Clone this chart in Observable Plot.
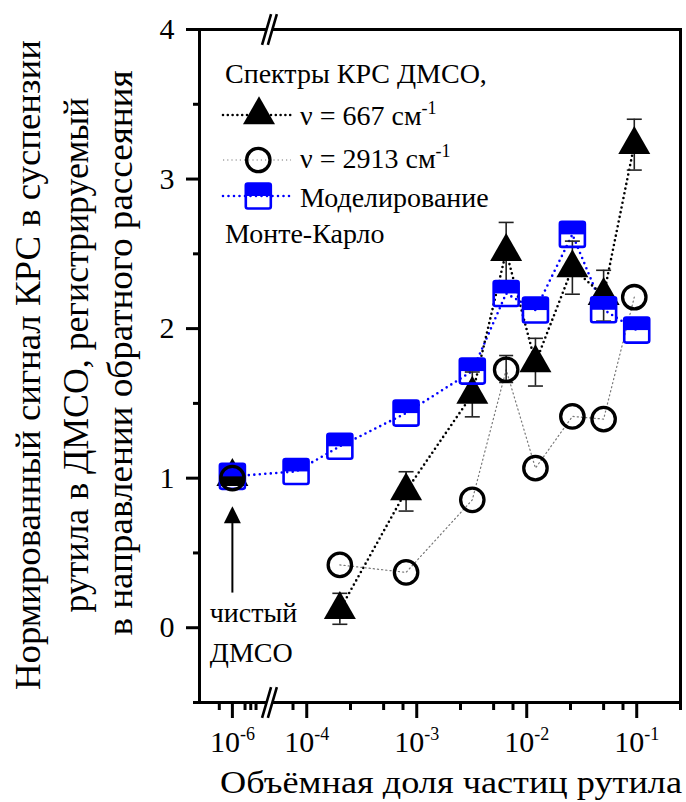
<!DOCTYPE html>
<html><head><meta charset="utf-8">
<script src="https://cdn.jsdelivr.net/npm/d3@7"></script>
<script src="https://cdn.jsdelivr.net/npm/@observablehq/plot@0.6"></script>
<style>body{margin:0;background:#fff} #chart{width:686px;height:802px}</style>
</head><body><div id="chart"></div>
<script>
// ---------- data ----------
const triX  = [1e-6, 2e-4, 8e-4, 3.2e-3, 6.5e-3, 1.2e-2, 2.6e-2, 5e-2, 9.5e-2];
const triY  = [1.01, 0.12, 0.915, 1.56, 2.515, 1.77, 2.405, 2.22, 3.23];
const triLo = [null, 0.023, 0.78, 1.41, 2.32, 1.616, 2.23, 2.05, 3.06];
const triHi = [null, 0.23, 1.043, 1.71, 2.71, 1.935, 2.585, 2.39, 3.40];

const cirX  = [1e-6, 2e-4, 8e-4, 3.2e-3, 6.5e-3, 1.2e-2, 2.6e-2, 5e-2, 9.5e-2];
const cirY  = [1.0, 0.42, 0.37, 0.855, 1.725, 1.067, 1.413, 1.395, 2.21];
const cirLo = [null, null, null, null, 1.64, null, null, null, null];
const cirHi = [null, null, null, null, 1.82, null, null, null, null];

const simX  = [1e-6, 8e-5, 2e-4, 8e-4, 3.2e-3, 6.5e-3, 1.2e-2, 2.6e-2, 5e-2, 1e-1];
const simY  = [1.012, 1.045, 1.213, 1.435, 1.716, 2.235, 2.124, 2.63, 2.126, 1.99];

// axis ticks
const xTickValues = [1e-6, 1e-4, 1e-3, 1e-2, 1e-1];
const xTickBase = "10";
const xTickExp = ["-6", "-4", "-3", "-2", "-1"];
const xMinorRight = [7.5e-5, 2.5e-4, 5e-4, 7.5e-4, 2.5e-3, 5e-3, 7.5e-3, 2.5e-2, 5e-2, 7.5e-2, 2.5e-1];
const xMinorLeftU = [-4.795, -4.561, -4.509, -4.461]; // ticks of the compressed segment left of the break
const yMajor = [0, 1, 2, 3, 4];
const yMinor = [-0.5, 0.5, 1.5, 2.5, 3.5];

// texts
const yTitle = ["Нормированный сигнал КРС в суспензии", "рутила в ДМСО, регистрируемый", "в направлении обратного рассеяния"];
const xTitle = "Объёмная доля частиц рутила";
const legendHead = "Спектры КРС ДМСО,";
const legendNames = ["ν = 667 см", "ν = 2913 см", "Моделирование"];
const legendTail = "Монте-Карло";
const note = "чистый\nДМСО";

// ---------- axis with a break ----------
const U_PURE = -4.676;   // position of the pure-DMSO column (left of the break)
const U_BREAK = -4.339;  // position of the axis break
const pos = x => x < 1e-5 ? U_PURE : Math.log10(x);
const U_MIN = -4.975, U_MAX = Math.log10(0.25);

const BLUE = "#0000ff";
const FONT = "Liberation Serif, Tinos, Times New Roman, DejaVu Serif, Noto Serif, serif";
const tri = triX.map((x, i) => ({x, y: triY[i], lo: triLo[i], hi: triHi[i]}));
const cir = cirX.map((x, i) => ({x, y: cirY[i], lo: cirLo[i], hi: cirHi[i]}));
const sim = simX.map((x, i) => ({x, y: simY[i]}));
const arrow = [{x: 1e-6, y1: 0.235, y2: 0.70, tip: 0.813}];

// ---------- custom symbols ----------
const triSym = {draw(c, size) { const r = Math.sqrt(size / Math.PI), h = r * 1.75;
  c.moveTo(0, -2 * h / 3); c.lineTo(r, h / 3); c.lineTo(-r, h / 3); c.closePath(); }};
const sqSym = {draw(c, size) { const s = Math.sqrt(size / Math.PI), k = 2;
  c.moveTo(-s + k, -s); c.lineTo(s - k, -s); c.arcTo(s, -s, s, -s + k, k);
  c.lineTo(s, s - k); c.arcTo(s, s, s - k, s, k); c.lineTo(-s + k, s);
  c.arcTo(-s, s, -s, s - k, k); c.lineTo(-s, -s + k); c.arcTo(-s, -s, -s + k, -s, k); c.closePath(); }};
const halfSym = {draw(c, size) { const s = Math.sqrt(size / Math.PI); c.rect(-s, -s, 2 * s, s); }};
const capSym = {draw(c, size) { const r = Math.sqrt(size / Math.PI); c.moveTo(-r, 0); c.lineTo(r, 0); }};
const headSym = {draw(c, size) { const r = Math.sqrt(size / Math.PI);
  c.moveTo(0, 0); c.lineTo(r, 2 * r); c.lineTo(-r, 2 * r); c.closePath(); }};
const slashSym = {draw(c) { for (const o of [-2.9, 2.9]) { c.moveTo(o - 4.5, 15.3); c.lineTo(o + 4.5, -15.3); } }};
const gapSym = {draw(c) { c.rect(-2.9, -3, 5.8, 6); }};

const breaks = [{x: U_BREAK, y: 4}, {x: U_BREAK, y: -0.5}];
const X = d => pos(d.x);

const plot = Plot.plot({
  width: 686, height: 802,
  marginLeft: 199, marginRight: 6, marginTop: 29, marginBottom: 100,
  style: {fontFamily: FONT, fontSize: "30px", color: "black", background: "white"},
  x: {type: "linear", domain: [U_MIN, U_MAX]},
  y: {domain: [-0.5, 4]},
  marks: [
    Plot.line(sim, {x: X, y: "y", stroke: BLUE, strokeWidth: 2.6, strokeDasharray: "0 5.5", strokeLinecap: "round"}),
    Plot.line(tri, {filter: d => d.x > 1e-5, x: X, y: "y", stroke: "black", strokeWidth: 2.6, strokeDasharray: "0 4.8", strokeLinecap: "round"}),
    Plot.line(cir, {filter: d => d.x > 1e-5, x: X, y: "y", stroke: "#777", strokeWidth: 1.2, strokeDasharray: "1.2 3"}),
    Plot.ruleX(tri, {filter: d => d.lo != null, x: X, y1: "lo", y2: "hi", stroke: "#222", strokeWidth: 1.6}),
    Plot.dot(tri, {filter: d => d.lo != null, x: X, y: "lo", symbol: capSym, r: 7.5, stroke: "#222", strokeWidth: 1.6}),
    Plot.dot(tri, {filter: d => d.hi != null, x: X, y: "hi", symbol: capSym, r: 7.5, stroke: "#222", strokeWidth: 1.6}),
    Plot.dot(tri, {x: X, y: "y", symbol: triSym, r: 16, fill: "black", stroke: null}),
    Plot.dot(sim, {x: X, y: "y", symbol: halfSym, r: 12.5, fill: BLUE, stroke: null}),
    Plot.dot(sim, {x: X, y: "y", symbol: sqSym, r: 12.5, fill: "none", stroke: BLUE, strokeWidth: 2.6}),
    Plot.ruleX(cir, {filter: d => d.lo != null, x: X, y1: "lo", y2: "hi", stroke: "#222", strokeWidth: 1.6}),
    Plot.dot(cir, {filter: d => d.lo != null, x: X, y: "lo", symbol: capSym, r: 7, stroke: "#222", strokeWidth: 1.6}),
    Plot.dot(cir, {filter: d => d.hi != null, x: X, y: "hi", symbol: capSym, r: 7, stroke: "#222", strokeWidth: 1.6}),
    Plot.dot(cir, {x: X, y: "y", r: 11.7, fill: "none", stroke: "black", strokeWidth: 3.3}),
    Plot.link(arrow, {x1: X, x2: X, y1: "y1", y2: "y2", stroke: "black", strokeWidth: 2}),
    Plot.dot(arrow, {x: X, y: "tip", symbol: headSym, r: 8.5, fill: "black", stroke: null}),
    Plot.text([note], {x: U_PURE, y: -0.23, text: d => d, textAnchor: "start", dx: -22.6, lineAnchor: "bottom", lineHeight: 1.43, fontSize: 28, fill: "black", fontFamily: FONT}),
    Plot.frame({stroke: "black", strokeWidth: 3}),
    Plot.axisY(yMajor, {tickSize: 13, tickPadding: 12, strokeWidth: 3, fontSize: 30, fontFamily: FONT, label: null, tickFormat: d => String(d)}),
    Plot.axisY(yMinor, {tickSize: 6, strokeWidth: 3, label: null, tickFormat: () => ""}),
    Plot.axisX(xTickValues.map(pos), {tickSize: 16, tickPadding: 12, strokeWidth: 3, fontSize: 30, fontFamily: FONT, label: null,
      tickFormat: (d) => { const i = xTickValues.map(pos).findIndex(u => Math.abs(u - d) < 1e-6); return xTickBase + "^" + xTickExp[i]; }}),
    Plot.axisX([...xMinorLeftU, ...xMinorRight.map(pos)], {tickSize: 8, strokeWidth: 3, label: null, tickFormat: () => ""}),
    Plot.dot(breaks, {x: "x", y: "y", symbol: gapSym, r: 1, fill: "white", stroke: null}),
    Plot.dot(breaks, {x: "x", y: "y", symbol: slashSym, r: 1, fill: "none", stroke: "black", strokeWidth: 2.6})
  ]
});

const svg = d3.select(plot);
// superscripts in x tick labels
svg.selectAll("text").each(function () {
  const t = this.textContent;
  if (/^10\^/.test(t)) {
    const [b, e] = t.split("^");
    const el = d3.select(this); el.text(b);
    el.append("tspan").attr("dy", -11.4).attr("font-size", 18).text(e);
  }
});
// y title (three rotated lines): baseline x, centre y, length
[[40, 365, 650], [88, 355, 515], [132, 353, 565]].forEach(([bx, cy, len], i) => {
  svg.append("text").attr("transform", `translate(${bx},${cy}) rotate(-90)`).attr("text-anchor", "middle")
    .attr("font-family", FONT).attr("font-size", 36).attr("fill", "black")
    .attr("textLength", len).attr("lengthAdjust", "spacingAndGlyphs").text(yTitle[i]);
});
// x title
svg.append("text").attr("x", 220).attr("y", 793).attr("text-anchor", "start").attr("font-family", FONT)
  .attr("font-size", 32).attr("fill", "black").attr("textLength", 462).attr("lengthAdjust", "spacingAndGlyphs").text(xTitle);

// legend
const lg = svg.append("g").attr("font-family", FONT).attr("font-size", 28).attr("fill", "black").attr("text-anchor", "start");
lg.append("text").attr("x", 225).attr("y", 83).text(legendHead);
const rows = [
  {y: 115, ty: 125, stroke: "black", sw: 2.6, dash: "0 4.8", cap: "round"},
  {y: 160, ty: 168, stroke: "#777", sw: 1.2, dash: "1.2 3", cap: "butt"},
  {y: 196, ty: 207, stroke: BLUE, sw: 2.6, dash: "0 5.5", cap: "round"}
];
rows.forEach((r, i) => {
  lg.append("line").attr("x1", 223).attr("x2", 291).attr("y1", r.y).attr("y2", r.y)
    .attr("stroke", r.stroke).attr("stroke-width", r.sw).attr("stroke-dasharray", r.dash).attr("stroke-linecap", r.cap);
  const t = lg.append("text").attr("x", 300).attr("y", r.ty).text(legendNames[i]);
  if (i < 2) t.append("tspan").attr("dy", -11).attr("font-size", 18).text("-1");
});
lg.append("path").attr("transform", "translate(259,115)").attr("d", d3.symbol(triSym, 16 * 16 * Math.PI)()).attr("fill", "black");
lg.append("circle").attr("cx", 258.3).attr("cy", 160).attr("r", 11.7).attr("fill", "none").attr("stroke", "black").attr("stroke-width", 3.3);
lg.append("path").attr("transform", "translate(258.3,196)").attr("d", d3.symbol(halfSym, 12.5 * 12.5 * Math.PI)()).attr("fill", BLUE);
lg.append("path").attr("transform", "translate(258.3,196)").attr("d", d3.symbol(sqSym, 12.5 * 12.5 * Math.PI)()).attr("fill", "none").attr("stroke", BLUE).attr("stroke-width", 2.6);
lg.append("text").attr("x", 225).attr("y", 243).text(legendTail);

document.getElementById("chart").appendChild(plot);
</script>
</body></html>
